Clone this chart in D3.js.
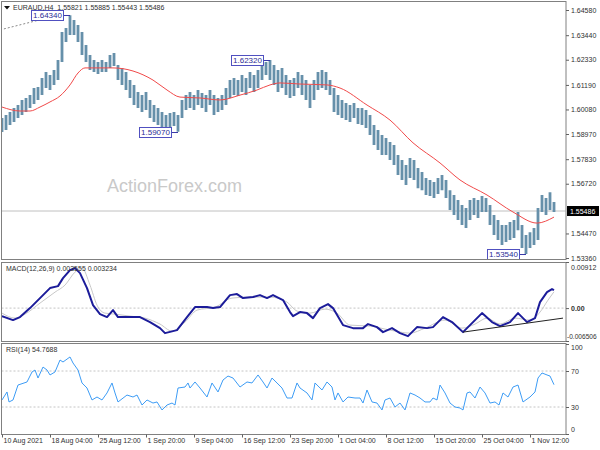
<!DOCTYPE html>
<html><head><meta charset="utf-8">
<script src="https://cdn.jsdelivr.net/npm/d3@7/dist/d3.min.js"></script>
<style>body{margin:0;background:#fff}svg{display:block;font-family:"Liberation Sans",Arial,sans-serif}</style>
</head><body><svg id="c" width="600" height="450"></svg>
<script>
// ---------- DATA ----------
const symbolTitle = "EURAUD,H4  1.55821 1.55885 1.55443 1.55486";
const macdTitle = "MACD(12,26,9) 0.003555 0.003234";
const rsiTitle = "RSI(14) 54.7688";
const watermark = "ActionForex.com";

const priceHigh = [1.5969,1.5983,1.5996,1.6015,1.6028,1.6051,1.6060,1.6073,1.6105,1.6110,
1.6150,1.6177,1.6164,1.6187,1.6232,1.6358,1.6377,1.6434,1.6413,1.6390,
1.6358,1.6300,1.6254,1.6232,1.6223,1.6232,1.6223,1.6254,1.6263,1.6209,
1.6196,1.6177,1.6141,1.6119,1.6087,1.6073,1.6087,1.6051,1.6028,1.6015,
1.5996,1.5983,1.5992,1.5996,1.5983,1.6051,1.6073,1.6087,1.6073,1.6096,
1.6082,1.6073,1.6096,1.6073,1.6060,1.6073,1.6105,1.6141,1.6150,1.6141,
1.6164,1.6150,1.6177,1.6164,1.6187,1.6223,1.6223,1.6232,1.6209,1.6187,
1.6196,1.6164,1.6141,1.6150,1.6177,1.6164,1.6141,1.6119,1.6141,1.6177,
1.6187,1.6177,1.6141,1.6105,1.6073,1.6051,1.6037,1.6028,1.6037,1.6015,
1.6015,1.6006,1.5983,1.5938,1.5915,1.5892,1.5879,1.5861,1.5847,1.5802,
1.5779,1.5757,1.5788,1.5779,1.5743,1.5725,1.5698,1.5689,1.5680,1.5698,
1.5711,1.5689,1.5643,1.5621,1.5598,1.5576,1.5562,1.5598,1.5607,1.5598,
1.5616,1.5607,1.5576,1.5530,1.5508,1.5485,1.5485,1.5499,1.5508,1.5544,
1.5485,1.5440,1.5453,1.5472,1.5562,1.5621,1.5607,1.5634,1.5589];
const priceLow = [1.5906,1.5915,1.5938,1.5951,1.5969,1.5983,1.5996,1.6015,1.6033,1.6051,
1.6073,1.6105,1.6096,1.6119,1.6141,1.6223,1.6313,1.6345,1.6345,1.6313,
1.6254,1.6223,1.6187,1.6177,1.6168,1.6177,1.6177,1.6196,1.6205,1.6141,
1.6119,1.6096,1.6060,1.6028,1.6015,1.5996,1.6006,1.5969,1.5951,1.5938,
1.5915,1.5924,1.5924,1.5933,1.5907,1.5969,1.6006,1.6015,1.6006,1.6028,
1.6015,1.5996,1.6028,1.5983,1.5996,1.6006,1.6028,1.6060,1.6073,1.6069,
1.6087,1.6073,1.6105,1.6087,1.6105,1.6141,1.6164,1.6141,1.6119,1.6087,
1.6105,1.6073,1.6060,1.6069,1.6105,1.6073,1.6051,1.6015,1.6051,1.6096,
1.6105,1.6096,1.6073,1.5996,1.5983,1.5969,1.5960,1.5951,1.5969,1.5942,
1.5938,1.5924,1.5892,1.5847,1.5825,1.5802,1.5802,1.5779,1.5757,1.5711,
1.5689,1.5666,1.5698,1.5689,1.5652,1.5643,1.5621,1.5616,1.5607,1.5625,
1.5643,1.5607,1.5553,1.5530,1.5508,1.5485,1.5472,1.5508,1.5530,1.5517,
1.5544,1.5544,1.5485,1.5440,1.5417,1.5395,1.5408,1.5417,1.5426,1.5462,
1.5381,1.5354,1.5381,1.5395,1.5417,1.5544,1.5530,1.5553,1.5544];
const lastPrice = 1.55486;

const maIdx = [0,4.5,7,9.5,12,14.5,17,19,20.75,24.5,27.75,32.75,37.75,41.25,44.5,49.5,54.5,59.5,63.75,67,69.5,74.5,81.25,84.5,91.25,97,102.75,109.5,114.5,121.25,127.75,133.75,138];
const maVal = [1.6019,1.6001,1.6001,1.6019,1.6042,1.6069,1.6119,1.6173,1.6196,1.6196,1.6196,1.6182,1.6141,1.6096,1.6064,1.6060,1.6051,1.6073,1.6096,1.6119,1.6128,1.6123,1.6119,1.6105,1.6028,1.5960,1.5857,1.5766,1.5689,1.5621,1.5544,1.5494,1.5521];

const labelIdx = [17,67,44,131];
const labelVal = [1.6434,1.6232,1.5907,1.5354];
const labelText = ["1.64340","1.62320","1.59070","1.53540"];

const mainTrendIdx = [-0.5,10.25];
const mainTrendVal = [1.6368,1.6417];

const priceTicks = [1.64580,1.63440,1.62330,1.61190,1.60080,1.58970,1.57830,1.56720,1.54470,1.53360];

const macdIdx = [0,2.75,4.5,7,9.5,12,14,15.25,17,18.25,19.5,21.25,22.75,24.5,26.25,27.75,29,31.25,34.5,37,39.5,40.75,43.75,46.25,48.25,51.25,52.75,54.5,57,58.75,60.25,62.75,64.5,66.25,67.75,70.25,72,72.75,74.5,76.25,77.75,79.5,81.5,82.75,85.25,87.75,90.25,91.5,93.75,95.25,97.5,99.5,101.5,103.75,106.25,107.75,110.25,112.5,115.25,117.75,120,122.5,124.5,127,129,131.25,133.25,134.5,136.25,137.5,138];
const macdVal = [-0.00158,-0.00237,-0.00178,0,0.00198,0.00396,0.00435,0.00593,0.00752,0.00791,0.00692,0.00396,0.00059,-0.00119,-0.00178,-0.00040,-0.00178,-0.00178,-0.00178,-0.00277,-0.00396,-0.00495,-0.00435,-0.00178,0.00020,0.00020,0,0.00020,0.00257,0.00277,0.00198,0.00218,0.00257,0.00198,0.00257,0.00158,-0.00079,-0.00158,-0.00079,-0.00099,-0.00198,0,0.00079,0,-0.00336,-0.00396,-0.00396,-0.00316,-0.00376,-0.00475,-0.00396,-0.00495,-0.00554,-0.00376,-0.00396,-0.00376,-0.00178,-0.00277,-0.00475,-0.00277,-0.00099,-0.00277,-0.00356,-0.00277,-0.00099,-0.00277,-0.00198,0.00119,0.00316,0.00376,0.003555];
const signalIdx = [0,3.25,5.75,9.5,13.25,15.75,18.25,20,22,23.75,25.75,28.25,32,35.75,39.5,42.5,45.75,48.75,53.25,57.5,62,67,71.25,73.75,77,80.75,83.75,87,92,97,102,105.75,110.75,115,118.25,121.25,124.5,128.25,132,134.5,136.5,138];
const signalVal = [-0.00099,-0.00198,-0.00119,0.00099,0.00316,0.00455,0.00712,0.00791,0.00455,0.00059,-0.00099,-0.00119,-0.00158,-0.00198,-0.00316,-0.00455,-0.00277,-0.00040,0.00020,0.00198,0.00218,0.00218,0.00119,-0.00059,-0.00099,-0.00020,-0.00099,-0.00336,-0.00356,-0.00435,-0.00495,-0.00396,-0.00237,-0.00396,-0.00316,-0.00198,-0.00316,-0.00198,-0.00237,-0.00079,0.00158,0.003234];
const macdTrendIdx = [115.25,140.25];
const macdTrendVal = [-0.00475,-0.00198];
const macdTicks = [0.00912,0,-0.006506];
const macdTickLabels = ["0.00912","0.00","-0.006506"];

const rsiIdx = [0,1.25,1.75,2.75,4,6.25,7.5,8.25,9,10.25,11.25,12,13.25,14.5,15.25,17,17.75,19,20,21.25,22.5,23.75,25,26.25,27.5,28.25,29,31.25,32.75,33.75,35,36.25,37.75,38.75,40,41.25,42.5,43.25,44,45.75,46.5,47,48.25,49.5,51.25,52.5,54,55.25,56.5,57.75,59.5,61.25,62.5,64,65.25,66.25,67.5,68.75,70,71.25,72.5,73.75,74.5,76.25,77.5,78.25,80,81.25,82.5,83.25,84,85.25,86.5,88.25,89.5,90.25,91.25,92.5,93.75,95,95.75,97,98.25,99.5,100.75,102,103.25,104.5,105.75,107,107.75,108.75,109.5,110.75,112,113.25,114.5,115.25,116.25,117,118.25,119.5,120.75,122,123.25,124.25,125.25,126.5,127.75,129,130.25,132,133.25,134,135,136.25,137,138];
const rsiVal = [37.8,46.7,35.6,37.8,54.4,57.8,68.9,71.1,62.2,74.4,71.1,65.6,68.9,82.2,80,85.6,78.9,71.1,56.7,51.1,37.8,41.1,37.8,45.6,56.7,45.6,35.6,43.3,41.1,43.3,32.2,37.8,34.4,35.6,26.7,32.2,34.4,32.2,51.1,52.2,56.7,51.1,57.8,51.1,41.1,56.7,46.7,60,64.4,62.2,52.2,57.8,56.7,65.6,57.8,51.1,62.2,56.7,51.1,40,40,56.7,51.1,45.6,37.8,56.7,48.9,57.8,52.2,37.8,45.6,35.6,41.1,40,40,34.4,48.9,35.6,34.4,26.7,37.8,40,30,34.4,26.7,45.6,43.3,40,35.6,35.6,40,37.8,54.4,45.6,34.4,30,28.9,26.7,45.6,46.7,40,52.2,45.6,34.4,35.6,32.2,45.6,41.1,52.2,54.4,35.6,41.1,46.7,62.2,67.8,65.6,64.4,54.8];
const rsiTicks = [100,70,30,0];
const rsiLevels = [70,30];

const xTickIdx = [0,12,24,36,48,60,72,84,96,108,120,132];
const xTickLabels = ["10 Aug 2021","18 Aug 04:00","25 Aug 12:00","1 Sep 20:00","9 Sep 04:00","16 Sep 12:00","23 Sep 20:00","1 Oct 04:00","8 Oct 12:00","15 Oct 20:00","25 Oct 04:00","1 Nov 12:00"];

// ---------- LAYOUT ----------
const svg = d3.select("#c");
const L = 1.5, R = 566;
const P = {main:[1.5,259.5], macd:[262.5,341.5], rsi:[343.5,434.5]};
const x = d3.scaleLinear().domain([0,138]).range([2,554]);
const yP = d3.scaleLinear().domain([1.5336,1.6458]).range([258,10]);
const yM = d3.scaleLinear().domain([-0.006506,0.00912]).range([341,262]);
const yR = d3.scaleLinear().domain([0,100]).range([434,344]);
const FS = "7px", TXT = "#303030";

const defs = svg.append("defs");
Object.entries(P).forEach(([k,[t,b]])=>{
  defs.append("clipPath").attr("id","clip-"+k).append("rect")
    .attr("x",L+0.5).attr("y",t+0.5).attr("width",R-L-1).attr("height",b-t-1);
});
const gMain = svg.append("g").attr("clip-path","url(#clip-main)");
const gMacd = svg.append("g").attr("clip-path","url(#clip-macd)");
const gRsi = svg.append("g").attr("clip-path","url(#clip-rsi)");

// watermark
gMain.append("text").attr("x",107).attr("y",192).attr("font-size","18px")
  .attr("fill","#c9c9c9").text(watermark);

// current price line
gMain.append("line").attr("x1",L).attr("x2",R).attr("y1",yP(lastPrice)).attr("y2",yP(lastPrice))
  .attr("stroke","#c0c0c0").attr("stroke-width",1);

// trend line (dotted)
gMain.append("line").attr("x1",x(mainTrendIdx[0])).attr("y1",yP(mainTrendVal[0]))
  .attr("x2",x(mainTrendIdx[1])).attr("y2",yP(mainTrendVal[1]))
  .attr("stroke","#8a8a8a").attr("stroke-dasharray","2,2").attr("stroke-width",1);

// price bars
gMain.selectAll("line.bar").data(priceHigh).join("line").attr("class","bar")
  .attr("x1",(d,i)=>x(i)).attr("x2",(d,i)=>x(i))
  .attr("y1",d=>yP(d)).attr("y2",(d,i)=>yP(priceLow[i]))
  .attr("stroke","#6690aa").attr("stroke-width",2.8);

// moving average
gMain.append("path").datum(maIdx.map((d,i)=>[d,maVal[i]]))
  .attr("d",d3.line().x(d=>x(d[0])).y(d=>yP(d[1])).curve(d3.curveMonotoneX))
  .attr("fill","none").attr("stroke","#f04a4a").attr("stroke-width",1);

// high/low labels
labelIdx.forEach((bi,k)=>{
  const bx = x(bi), by = yP(labelVal[k]);
  const w = 32, h = 10, rx = bx-7-w;
  gMain.append("line").attr("x1",rx+w).attr("x2",bx).attr("y1",Math.round(by)+0.5).attr("y2",Math.round(by)+0.5)
    .attr("stroke","#3a3aa8").attr("stroke-width",1);
  gMain.append("rect").attr("x",rx+0.5).attr("y",Math.round(by-h/2)+0.5).attr("width",w).attr("height",h)
    .attr("fill","#fff").attr("stroke","#5050c0").attr("stroke-width",1);
  gMain.append("text").attr("x",rx+w/2+0.5).attr("y",by+3).attr("text-anchor","middle")
    .attr("font-size","8px").attr("fill","#2c2c96").text(labelText[k]);
});

// MACD
gMacd.append("line").attr("x1",L).attr("x2",R).attr("y1",yM(0)).attr("y2",yM(0))
  .attr("stroke","#c4c4c4").attr("stroke-dasharray","2,2");
gMacd.append("path").datum(signalIdx.map((d,i)=>[d,signalVal[i]]))
  .attr("d",d3.line().x(d=>x(d[0])).y(d=>yM(d[1])).curve(d3.curveMonotoneX))
  .attr("fill","none").attr("stroke","#c8c8c8").attr("stroke-width",1);
gMacd.append("path").datum(macdIdx.map((d,i)=>[d,macdVal[i]]))
  .attr("d",d3.line().x(d=>x(d[0])).y(d=>yM(d[1])))
  .attr("fill","none").attr("stroke","#1c1c9a").attr("stroke-width",2).attr("stroke-linejoin","round");
gMacd.append("line").attr("x1",x(macdTrendIdx[0])).attr("y1",yM(macdTrendVal[0]))
  .attr("x2",x(macdTrendIdx[1])).attr("y2",yM(macdTrendVal[1]))
  .attr("stroke","#222").attr("stroke-width",1);

// RSI
rsiLevels.forEach(v=>{
  gRsi.append("line").attr("x1",L).attr("x2",R).attr("y1",yR(v)).attr("y2",yR(v))
    .attr("stroke","#c4c4c4").attr("stroke-dasharray","2,2");
});
gRsi.append("path").datum(rsiIdx.map((d,i)=>[d,rsiVal[i]]))
  .attr("d",d3.line().x(d=>x(d[0])).y(d=>yR(d[1])))
  .attr("fill","none").attr("stroke","#3d9cf5").attr("stroke-width",1);

// panel frames
Object.values(P).forEach(([t,b])=>{
  svg.append("rect").attr("x",L).attr("y",t).attr("width",R-L).attr("height",b-t)
    .attr("fill","none").attr("stroke","#808080").attr("stroke-width",1);
});

// titles
svg.append("path").attr("d","M4,6 L10,6 L7,9.5 Z").attr("fill","#111");
svg.append("text").attr("x",13).attr("y",10).attr("font-size",FS).attr("fill",TXT).text(symbolTitle).style("white-space","pre");
svg.append("text").attr("x",6).attr("y",271).attr("font-size",FS).attr("fill",TXT).text(macdTitle);
svg.append("text").attr("x",6).attr("y",352).attr("font-size",FS).attr("fill",TXT).text(rsiTitle);

function styleAxis(g){
  g.select(".domain").remove();
  g.selectAll("line").attr("stroke","#606060");
  g.selectAll("text").attr("font-size",FS).attr("fill",TXT).attr("font-family","'Liberation Sans',Arial,sans-serif");
}
// price axis
const axP = svg.append("g").attr("transform",`translate(${R},0)`)
  .call(d3.axisRight(yP).tickValues(priceTicks).tickSize(3).tickPadding(2).tickFormat(d3.format(".5f")));
styleAxis(axP);
// last price tag
svg.append("rect").attr("x",R+1).attr("y",yP(lastPrice)-5).attr("width",32).attr("height",10).attr("fill","#000");
svg.append("text").attr("x",R+4).attr("y",yP(lastPrice)+2.5).attr("font-size",FS).attr("fill","#fff").text(d3.format(".5f")(lastPrice));

// MACD axis
const axM = svg.append("g").attr("transform",`translate(${R},0)`)
  .call(d3.axisRight(yM).tickValues(macdTicks).tickSize(3).tickPadding(2).tickFormat((d,i)=>macdTickLabels[i]));
styleAxis(axM);
axM.selectAll("text")
  .attr("dy",(d,i)=> i===0 ? "1.0em" : (i===2 ? "-0.45em" : "0.32em"))
  .attr("dx",(d,i)=> i===2 ? "-4" : "0")
  .attr("font-size",(d,i)=> i===2 ? "6.6px" : FS)
  .attr("font-weight",(d,i)=> i===1 ? "bold" : "normal");

// RSI axis
const axR = svg.append("g").attr("transform",`translate(${R},0)`)
  .call(d3.axisRight(yR).tickValues(rsiTicks).tickSize(3).tickPadding(2));
styleAxis(axR);
axR.selectAll("text").attr("dy",d=> d===100 ? "0.75em" : (d===0 ? "-0.4em" : "0.32em"));

// X axis
const axX = svg.append("g").attr("transform",`translate(0,${P.rsi[1]})`)
  .call(d3.axisBottom(x).tickValues(xTickIdx).tickSize(3).tickPadding(1).tickFormat((d,i)=>xTickLabels[i]));
styleAxis(axX);
axX.selectAll("text").attr("text-anchor","start").attr("dx","1");
</script></body></html>
